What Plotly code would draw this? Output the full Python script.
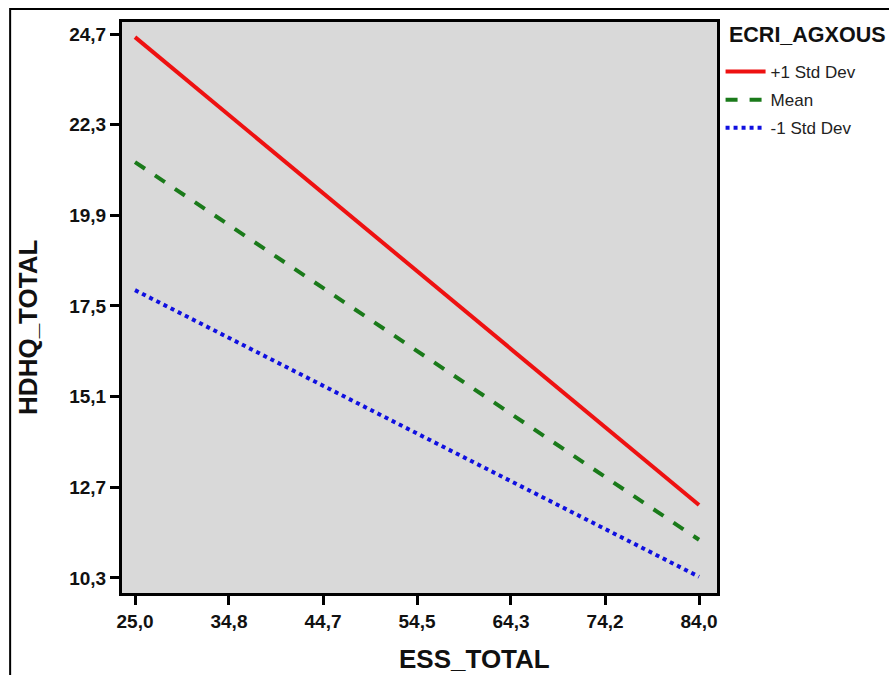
import plotly.graph_objects as go

# Data
x_ends = [25.0, 84.0]
plus1_sd = [24.62, 12.23]
mean_vals = [21.31, 11.31]
minus1_sd = [17.92, 10.33]
series_names = ["+1 Std Dev", "Mean", "-1 Std Dev"]
x_tickvals = [25.0, 34.83, 44.67, 54.5, 64.33, 74.17, 84.0]
x_ticktext = ["25,0", "34,8", "44,7", "54,5", "64,3", "74,2", "84,0"]
y_tickvals = [10.3, 12.7, 15.1, 17.5, 19.9, 22.3, 24.7]
y_ticktext = ["10,3", "12,7", "15,1", "17,5", "19,9", "22,3", "24,7"]
x_title = "ESS_TOTAL"
y_title = "HDHQ_TOTAL"
legend_title = "ECRI_AGXOUS"

fig = go.Figure()
fig.add_trace(go.Scatter(x=x_ends, y=plus1_sd, mode="lines", name=series_names[0],
                         legendgroup="a", line=dict(color="#ee1111", width=4)))
fig.add_trace(go.Scatter(x=x_ends, y=mean_vals, mode="lines", name=series_names[1],
                         legendgroup="b", line=dict(color="#1a7a1a", width=4, dash="dash")))
fig.add_trace(go.Scatter(x=x_ends, y=minus1_sd, mode="lines", name=series_names[2],
                         legendgroup="c", line=dict(color="#1010e0", width=4, dash="dot")))

fam = "Liberation Sans, Arial, sans-serif"
tick_font = dict(family=fam, size=19, color="#111111", weight="bold")
fig.update_layout(
    width=889, height=675,
    margin=dict(l=122, r=172, t=22, b=82),
    paper_bgcolor="white",
    plot_bgcolor="#d9d9d9",
    font=dict(family=fam, color="#111111"),
    xaxis=dict(range=[23.64, 85.88], tickvals=x_tickvals, ticktext=x_ticktext,
               showgrid=False, zeroline=False, showline=True, linecolor="black",
               linewidth=3, mirror=True, ticks="outside", ticklen=9, tickwidth=3,
               tickcolor="black", tickfont=tick_font),
    yaxis=dict(range=[9.9, 25.02], tickvals=y_tickvals, ticktext=y_ticktext,
               showgrid=False, zeroline=False, showline=True, linecolor="black",
               linewidth=3, mirror=True, ticks="outside", ticklen=9, tickwidth=3,
               tickcolor="black", tickfont=tick_font),
    legend=dict(x=1.006, y=0.944, xanchor="left", yanchor="top",
                bgcolor="rgba(0,0,0,0)", font=dict(size=17, color="#222222"),
                itemwidth=40, tracegroupgap=3),
    annotations=[
        dict(text="<b>" + legend_title + "</b>", xref="paper", yref="paper",
             x=1.0168, y=0.977, xanchor="left", yanchor="middle",
             showarrow=False, font=dict(size=21.5, color="#111111")),
        dict(text="<b>" + x_title + "</b>", xref="paper", yref="paper",
             x=0.593, y=-0.115, xanchor="center", yanchor="middle",
             showarrow=False, font=dict(size=26, color="#111111")),
        dict(text="<b>" + y_title + "</b>", xref="paper", yref="paper",
             x=-0.158, y=0.466, xanchor="center", yanchor="middle", textangle=-90,
             showarrow=False, font=dict(size=26, color="#111111")),
    ],
    shapes=[dict(type="rect", xref="paper", yref="paper",
                 x0=-0.188, y0=-0.35, x1=1.6, y1=1.0228,
                 line=dict(color="black", width=2), layer="below")],
)

fig.write_html("out.html")
